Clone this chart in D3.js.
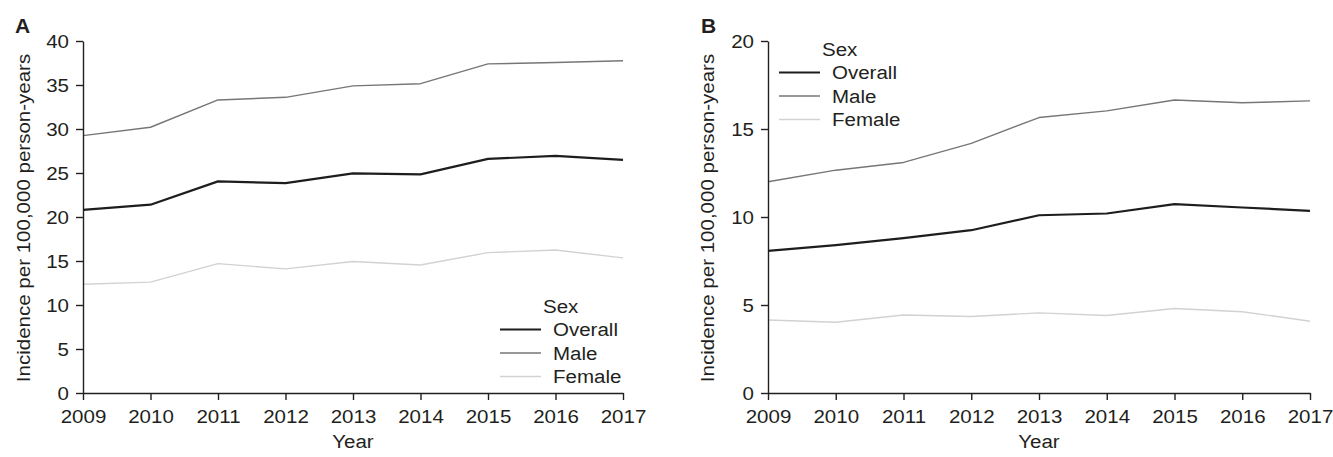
<!DOCTYPE html>
<html>
<head>
<meta charset="utf-8">
<script src="https://cdn.jsdelivr.net/npm/d3@7"></script>
<style>
  html, body { margin: 0; padding: 0; background: #fff; }
  svg { display: block; font-family: "Liberation Sans", Arial, Helvetica, sans-serif; }
  .wide { transform-box: fill-box; transform: scaleX(1.08); }
  .wide.mid { transform-origin: center; }
  .wide.end { transform-origin: right center; }
  .wide.start { transform-origin: left center; }
</style>
</head>
<body>
<svg id="chart" width="1333" height="457"></svg>
<script>
// Incidence per 100,000 person-years by sex, 2009–2017
const years = [2009, 2010, 2011, 2012, 2013, 2014, 2015, 2016, 2017];

// Panel A
const overallA = [20.8, 21.4, 24.05, 23.85, 24.95, 24.85, 26.6, 26.95, 26.5];
const maleA    = [29.25, 30.2, 33.3, 33.6, 34.9, 35.15, 37.4, 37.55, 37.75];
const femaleA  = [12.35, 12.6, 14.7, 14.1, 14.95, 14.55, 15.95, 16.25, 15.35];
const yTicksA  = [0, 5, 10, 15, 20, 25, 30, 35, 40];

// Panel B
const overallB = [8.08, 8.4, 8.8, 9.25, 10.1, 10.2, 10.73, 10.54, 10.35];
const maleB    = [12.0, 12.66, 13.1, 14.18, 15.65, 16.03, 16.65, 16.49, 16.6];
const femaleB  = [4.15, 4.02, 4.43, 4.35, 4.55, 4.4, 4.8, 4.62, 4.08];
const yTicksB  = [0, 5, 10, 15, 20];

const seriesNames = ["Overall", "Male", "Female"];
const seriesColor = { Overall: "#1f1c1d", Male: "#767676", Female: "#d2d2d2" };
const seriesWidth = { Overall: 2.2, Male: 1.4, Female: 1.4 };
const textColor = "#231f20";
const fontSize = "19px";

const svg = d3.select("#chart");

function panel(cfg) {
  const g = svg.append("g");
  const x = d3.scaleLinear().domain([years[0], years[years.length - 1]]).range([cfg.x0, cfg.x1]);
  const y = d3.scaleLinear().domain([0, cfg.yMax]).range([cfg.yBottom, cfg.yTop]);

  // series lines
  const line = d3.line().x((d, i) => x(years[i])).y(d => y(d));
  const data = { Overall: cfg.overall, Male: cfg.male, Female: cfg.female };
  ["Female", "Male", "Overall"].forEach(name => {
    g.append("path")
      .datum(data[name])
      .attr("fill", "none")
      .attr("stroke", seriesColor[name])
      .attr("stroke-width", seriesWidth[name])
      .attr("stroke-linejoin", "round")
      .attr("d", line);
  });

  // axes
  const xAxis = d3.axisBottom(x).tickValues(years).tickFormat(d3.format("d")).tickSize(7).tickSizeOuter(0);
  const gx = g.append("g").attr("transform", `translate(0,${cfg.yBottom})`).call(xAxis);
  const yAxis = d3.axisLeft(y).tickValues(cfg.yTicks).tickSize(7).tickSizeOuter(0);
  const gy = g.append("g").attr("transform", `translate(${cfg.x0},0)`).call(yAxis);

  [gx, gy].forEach(a => {
    a.select(".domain").attr("stroke", textColor).attr("stroke-width", 1.4);
    a.selectAll(".tick line").attr("stroke", textColor).attr("stroke-width", 1.4);
    a.selectAll(".tick text").attr("fill", textColor).style("font-size", fontSize);
  });
  gx.selectAll(".tick text").attr("y", 30).attr("dy", 0).attr("class", "wide mid");
  gy.selectAll(".tick text").attr("x", -14).attr("dy", "0.36em").attr("class", "wide end");

  // axis titles
  g.append("text")
    .attr("class", "wide mid")
    .attr("x", (cfg.x0 + cfg.x1) / 2).attr("y", 448)
    .attr("text-anchor", "middle").attr("fill", textColor)
    .style("font-size", fontSize).text("Year");
  g.append("g")
    .attr("transform", `translate(${cfg.yLabelX},${(cfg.yTop + cfg.yBottom) / 2 + 1}) rotate(-90)`)
    .append("text")
    .attr("class", "wide mid")
    .attr("text-anchor", "middle").attr("fill", textColor)
    .style("font-size", fontSize).text("Incidence per 100,000 person-years");

  // panel letter
  g.append("text")
    .attr("x", cfg.letterX).attr("y", 33)
    .attr("fill", textColor).style("font-size", "21px").style("font-weight", "bold")
    .text(cfg.letter);

  // legend
  const lg = g.append("g").attr("transform", `translate(${cfg.legX},${cfg.legY})`);
  lg.append("text").attr("class", "wide start")
    .attr("x", 43).attr("y", 0).attr("dy", "0.36em")
    .attr("fill", textColor).style("font-size", fontSize).text("Sex");
  seriesNames.forEach((name, i) => {
    const yy = 23.5 * (i + 1);
    lg.append("line").attr("x1", 0).attr("x2", 41).attr("y1", yy).attr("y2", yy)
      .attr("stroke", seriesColor[name]).attr("stroke-width", seriesWidth[name]);
    lg.append("text").attr("class", "wide start")
      .attr("x", 53).attr("y", yy).attr("dy", "0.36em")
      .attr("fill", textColor).style("font-size", fontSize).text(name);
  });
}

panel({
  letter: "A", letterX: 15,
  x0: 83, x1: 623, yTop: 41, yBottom: 393, yMax: 40, yTicks: yTicksA,
  yLabelX: 30,
  overall: overallA, male: maleA, female: femaleA,
  legX: 500, legY: 306
});

panel({
  letter: "B", letterX: 701,
  x0: 768, x1: 1310, yTop: 41, yBottom: 393, yMax: 20, yTicks: yTicksB,
  yLabelX: 714,
  overall: overallB, male: maleB, female: femaleB,
  legX: 779, legY: 49
});
</script>
</body>
</html>
